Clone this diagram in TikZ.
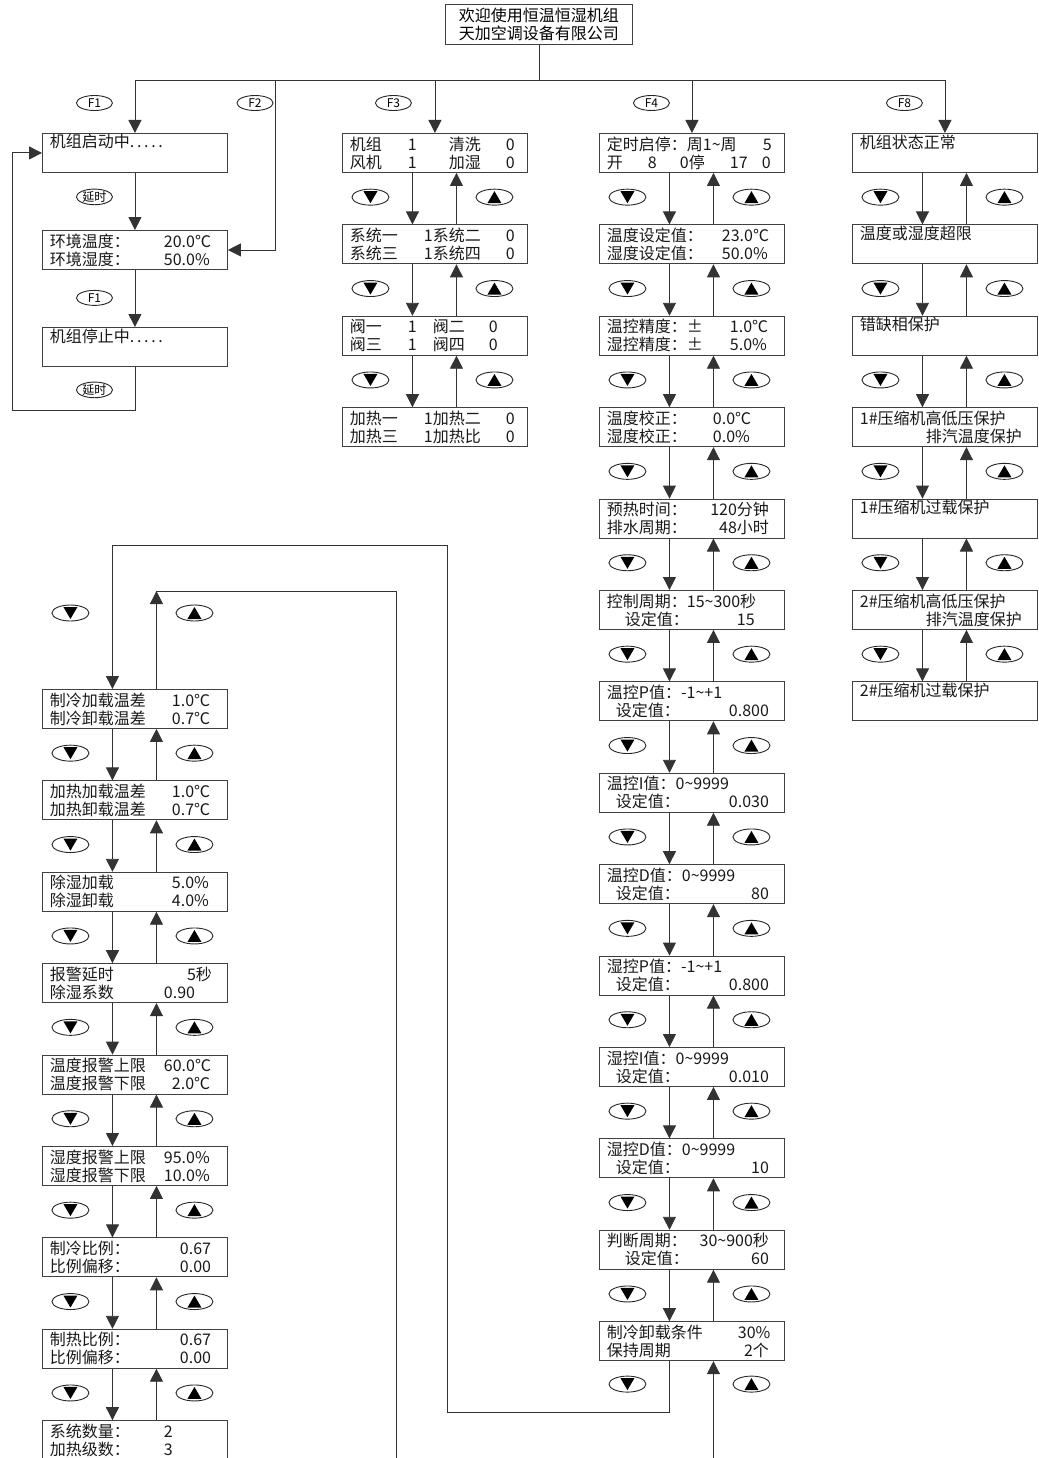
\documentclass[tikz,border=0pt]{standalone}
\usepackage{fontspec}
\setmainfont{Noto Sans CJK SC}
\usetikzlibrary{
    positioning,
    arrows.meta,
    shapes.geometric
}

% fixed LCD columns
\newcommand{\lcdcell}[2]{\makebox[#1pt][l]{#2}}
\newcommand{\lcdrow}[2]{\makebox[162pt][l]{#1\hfill#2}}
\newcommand{\tld}{\textasciitilde}

\begin{document}
\begin{tikzpicture}[
    x=1pt, y=1pt,
    font=\fontsize{16}{18}\selectfont,
    lcd/.style={
        draw=black!75,
        line width=0.9pt,
        anchor=north west,
        text=black!90,
        text width=170pt,
        inner xsep=7.5pt,
        inner ysep=0pt,
        minimum height=39pt,
        align=left
    },
    title/.style={
        draw=black!75,
        line width=0.9pt,
        anchor=north west,
        minimum width=187pt,
        minimum height=40pt,
        inner sep=0pt,
        align=center
    },
    fkey/.style={
        draw=black!85,
        line width=0.9pt,
        ellipse,
        minimum width=36pt,
        minimum height=15pt,
        inner sep=0pt,
        font=\fontsize{12}{12}\selectfont
    },
    keydn/.style={
        draw=black!85,
        line width=0.9pt,
        ellipse,
        minimum width=37pt,
        minimum height=16pt,
        inner sep=0pt,
        path picture={\fill[black] ([shift={(-7pt,6pt)}]path picture bounding box.center)
            -- ++(14pt,0pt) -- ++(-7pt,-12pt) -- cycle;}
    },
    keyup/.style={
        keydn,
        path picture={\fill[black] ([shift={(-7pt,-6pt)}]path picture bounding box.center)
            -- ++(14pt,0pt) -- ++(-7pt,12pt) -- cycle;}
    },
    wire/.style={draw=black!80, line width=0.9pt},
    arrow/.style={wire, -{Triangle[width=13pt,length=13pt]}}
]

\useasboundingbox (0,0) rectangle (1038,-1458);

% ================= TITLE =================
\node[title] (title) at (445,-4) {欢迎使用恒温恒湿机组\\天加空调设备有限公司};

% ================= F1 / F2 =================
\node[lcd] (f1a) at (42,-133) {机组启动中.\,.\,.\,.\,.\\\strut};
\node[lcd, below=57.1pt of f1a] (f1b) {
\lcdcell{114}{环境温度：}20.0℃\\
\lcdcell{114}{环境湿度：}50.0\%};
\node[lcd, below=57.1pt of f1b] (f1c) {机组停止中.\,.\,.\,.\,.\\\strut};

% ================= F3 =================
\node[lcd] (f3a) at (342,-133) {
\lcdcell{58}{机组}\lcdcell{41}{1}\lcdcell{57}{清洗}0\\
\lcdcell{58}{风机}\lcdcell{41}{1}\lcdcell{57}{加湿}0};
\node[lcd, below=51.5pt of f3a] (f3b) {
\lcdcell{74}{系统一}\lcdcell{82}{1系统二}0\\
\lcdcell{74}{系统三}\lcdcell{82}{1系统四}0};
\node[lcd, below=51.5pt of f3b] (f3c) {
\lcdcell{58}{阀一}\lcdcell{25}{1}\lcdcell{56}{阀二}0\\
\lcdcell{58}{阀三}\lcdcell{25}{1}\lcdcell{56}{阀四}0};
\node[lcd, below=51.5pt of f3c] (f3d) {
\lcdcell{74}{加热一}\lcdcell{82}{1加热二}0\\
\lcdcell{74}{加热三}\lcdcell{82}{1加热比}0};

% ================= F4 =================
\node[lcd] (f4a) at (599,-133) {
\lcdcell{156}{定时启停：周1\tld 周}5\\
\lcdcell{41}{开}\lcdcell{32}{8}\lcdcell{50}{0停}\lcdcell{32}{17}0};
\node[lcd, below=51.5pt of f4a] (f4b) {
\lcdcell{115}{温度设定值：}23.0℃\\
\lcdcell{115}{湿度设定值：}50.0\%};
\node[lcd, below=51.5pt of f4b] (f4c) {
\lcdcell{123}{温控精度：±}1.0℃\\
\lcdcell{123}{湿控精度：±}5.0\%};
\node[lcd, below=51.5pt of f4c] (f4d) {
\lcdcell{106}{温度校正：}0.0℃\\
\lcdcell{106}{湿度校正：}0.0\%};
\node[lcd, below=51.5pt of f4d] (f4e) {
\lcdrow{预热时间：}{120分钟}\\
\lcdrow{排水周期：}{48小时}};
\node[lcd, below=51.5pt of f4e] (f4f) {
控制周期：15\tld 300秒\\
\lcdcell{130}{\hspace*{18pt}设定值：}15};
\node[lcd, below=51.5pt of f4f] (f4g) {
温控P值：-1\tld +1\\
\lcdrow{\hspace*{9pt}设定值：}{0.800}};
\node[lcd, below=51.5pt of f4g] (f4h) {
温控I值：0\tld 9999\\
\lcdrow{\hspace*{9pt}设定值：}{0.030}};
\node[lcd, below=51.5pt of f4h] (f4i) {
温控D值：0\tld 9999\\
\lcdrow{\hspace*{9pt}设定值：}{80}};
\node[lcd, below=51.5pt of f4i] (f4j) {
湿控P值：-1\tld +1\\
\lcdrow{\hspace*{9pt}设定值：}{0.800}};
\node[lcd, below=51.5pt of f4j] (f4k) {
湿控I值：0\tld 9999\\
\lcdrow{\hspace*{9pt}设定值：}{0.010}};
\node[lcd, below=51.5pt of f4k] (f4l) {
湿控D值：0\tld 9999\\
\lcdrow{\hspace*{9pt}设定值：}{10}};
\node[lcd, below=51.5pt of f4l] (f4m) {
\lcdrow{判断周期：}{30\tld 900秒}\\
\lcdrow{\hspace*{18pt}设定值：}{60}};
\node[lcd, below=51.5pt of f4m] (f4n) {
\lcdcell{131}{制冷卸载条件}30\%\\
\lcdrow{保持周期}{2个}};

% ---- continued, left column
\node[lcd] (f4o) at (42,-689) {
\lcdcell{122}{制冷加载温差}1.0℃\\
\lcdcell{122}{制冷卸载温差}0.7℃};
\node[lcd, below=51.5pt of f4o] (f4p) {
\lcdcell{122}{加热加载温差}1.0℃\\
\lcdcell{122}{加热卸载温差}0.7℃};
\node[lcd, below=51.5pt of f4p] (f4q) {
\lcdcell{122}{除湿加载}5.0\%\\
\lcdcell{122}{除湿卸载}4.0\%};
\node[lcd, below=51.5pt of f4q] (f4r) {
\lcdrow{报警延时}{5秒}\\
\lcdcell{114}{除湿系数}0.90};
\node[lcd, below=51.5pt of f4r] (f4s) {
\lcdcell{114}{温度报警上限}60.0℃\\
\lcdcell{122}{温度报警下限}2.0℃};
\node[lcd, below=51.5pt of f4s] (f4t) {
\lcdcell{114}{湿度报警上限}95.0\%\\
\lcdcell{114}{湿度报警下限}10.0\%};
\node[lcd, below=51.5pt of f4t] (f4u) {
\lcdcell{130}{制冷比例：}0.67\\
\lcdcell{130}{比例偏移：}0.00};
\node[lcd, below=51.5pt of f4u] (f4v) {
\lcdcell{130}{制热比例：}0.67\\
\lcdcell{130}{比例偏移：}0.00};
\node[lcd, below=51.5pt of f4v] (f4w) {
\lcdcell{114}{系统数量：}2\\
\lcdcell{114}{加热级数：}3};

% ================= F8 =================
\node[lcd] (f8a) at (852,-133) {机组状态正常\\\strut};
\node[lcd, below=51.5pt of f8a] (f8b) {温度或湿度超限\\\strut};
\node[lcd, below=51.5pt of f8b] (f8c) {错缺相保护\\\strut};
\node[lcd, below=51.5pt of f8c] (f8d) {1\#压缩机高低压保护\\\lcdrow{}{排汽温度保护}};
\node[lcd, below=51.5pt of f8d] (f8e) {1\#压缩机过载保护\\\strut};
\node[lcd, below=51.5pt of f8e] (f8f) {2\#压缩机高低压保护\\\lcdrow{}{排汽温度保护}};
\node[lcd, below=51.5pt of f8f] (f8g) {2\#压缩机过载保护\\\strut};

% ================= MENU BUS =================
\coordinate (bus) at (540,-80);
\coordinate (f2drop) at (275,-80);
\coordinate (loopcorner) at (12,-410);
\coordinate (retA) at (447,-1412);
\coordinate (retB) at (447,-545);
\coordinate (wrapA) at (396,-591);
\coordinate (wrapB) at (396,-1458);

\draw[wire] (title.south) -- (title.south |- bus);
\draw[wire] (f1a.north |- bus) -- (f8a.north |- bus);
\foreach \n in {f1a, f3a, f4a, f8a}
    \draw[arrow] (\n.north |- bus) -- (\n.north);
\draw[arrow] (f2drop) |- (f1b.east);

\node[fkey] (kf1) at ([xshift=-40.5pt,yshift=30pt]f1a.north) {F1};
\node[fkey] (kf2) at ([xshift=-20pt,yshift=-23pt]f2drop) {F2};
\node[fkey] (kf3) at ([xshift=-41.5pt,yshift=30pt]f3a.north) {F3};
\node[fkey] (kf4) at ([xshift=-40.5pt,yshift=30pt]f4a.north) {F4};
\node[fkey] (kf8) at ([xshift=-40.5pt,yshift=30pt]f8a.north) {F8};

% ================= F1 LOOP =================
\draw[arrow] (f1a.south) -- (f1b.north);
\draw[arrow] (f1b.south) -- (f1c.north);
\draw[arrow] (f1c.south) |- (loopcorner) |- (f1a.west);
\node[fkey] (kdelay1) at ([xshift=-40.5pt,yshift=-24pt]f1a.south) {延时};
\node[fkey] (kf1b) at ([xshift=-40.5pt,yshift=-28pt]f1b.south) {F1};
\node[fkey] (kdelay2) at ([xshift=-40.5pt,yshift=-23pt]f1c.south) {延时};

% ================= UP / DOWN KEYS =================
\foreach \a/\b in {f3a/f3b, f3b/f3c, f3c/f3d,
    f4a/f4b, f4b/f4c, f4c/f4d, f4d/f4e, f4e/f4f, f4f/f4g, f4g/f4h,
    f4h/f4i, f4i/f4j, f4j/f4k, f4k/f4l, f4l/f4m, f4m/f4n,
    f4o/f4p, f4p/f4q, f4q/f4r, f4r/f4s, f4s/f4t, f4t/f4u, f4u/f4v, f4v/f4w,
    f8a/f8b, f8b/f8c, f8c/f8d, f8d/f8e, f8e/f8f, f8f/f8g} {
    \draw[arrow] ([xshift=-22.5pt]\a.south) -- ([xshift=-22.5pt]\b.north);
    \draw[arrow] ([xshift=21.5pt]\b.north) -- ([xshift=21.5pt]\a.south);
    \path (\a.south) -- (\b.north)
        node[keydn, midway, xshift=-64.5pt, yshift=1.5pt] (dn\a) {}
        node[keyup, midway, xshift=59.5pt, yshift=1.5pt] (up\a) {};
}

% ---- wrap from F4 list to left column
\node[keydn] (dnf4n) at ([xshift=-64.5pt,yshift=-23pt]f4n.south) {};
\node[keyup] (upf4n) at ([xshift=59.5pt,yshift=-23pt]f4n.south) {};
\node[keydn] (dntop) at ([xshift=-64.5pt,yshift=76pt]f4o.north) {};
\node[keyup] (uptop) at ([xshift=59.5pt,yshift=76pt]f4o.north) {};

\draw[arrow] ([xshift=-22.5pt]f4n.south) |- (retA) -- (retB) -| ([xshift=-22.5pt]f4o.north);
\draw[arrow] ([xshift=21.5pt]f4o.north) -- ([xshift=21.5pt]f4o.north |- wrapA);
\draw[wire] ([xshift=21.5pt]f4o.north |- wrapA) -- (wrapA) -- (wrapB);
\draw[arrow] ([xshift=21.5pt]f4n.south |- wrapB) -- ([xshift=21.5pt]f4n.south);

\end{tikzpicture}
\end{document}
